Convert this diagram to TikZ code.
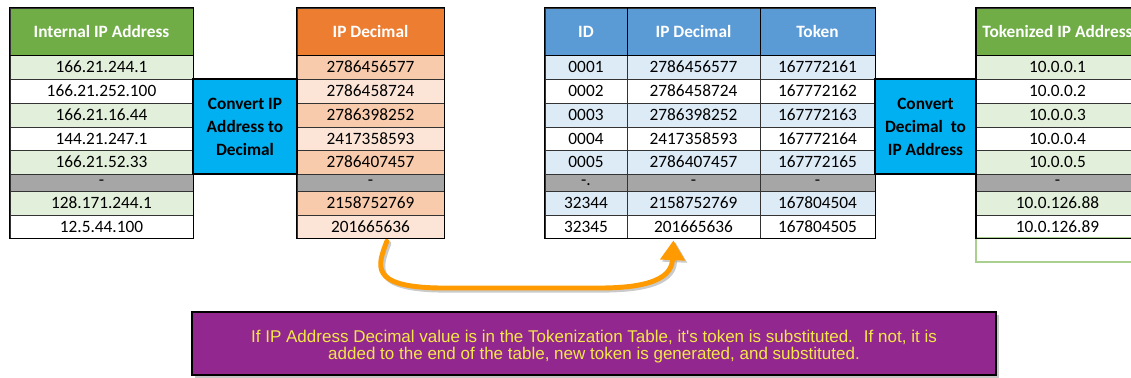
\documentclass[tikz,border=0pt]{standalone}
\usepackage{fontspec}
\setmainfont{Carlito}
\newfontfamily\notefont{Liberation Sans}
\usetikzlibrary{arrows.meta,calc,shadows}

\definecolor{hdgreen}{HTML}{70AD47}
\definecolor{hdorange}{HTML}{ED7D31}
\definecolor{hdblue}{HTML}{5B9BD5}
\definecolor{rowgray}{HTML}{A6A6A6}
\definecolor{ipa}{HTML}{E2EFDA}
\definecolor{ipb}{HTML}{FFFFFF}
\definecolor{ipg}{HTML}{A6A6A6}
\definecolor{deca}{HTML}{F8CBAD}
\definecolor{decb}{HTML}{FCE4D6}
\definecolor{decg}{HTML}{A6A6A6}
\definecolor{tka}{HTML}{DDEBF7}
\definecolor{tkb}{HTML}{FFFFFF}
\definecolor{tkg}{HTML}{A6A6A6}
\definecolor{xgreen}{HTML}{A9D08E}
\definecolor{convblue}{HTML}{00B0F0}
\definecolor{notepurple}{HTML}{92278F}
\definecolor{noteyellow}{HTML}{F4E64A}
\definecolor{arroworange}{HTML}{FF9A00}

\def\pu{0.025cm}

\tikzset{
  cell/.style={draw=black!80, line width=0.6pt, inner sep=0pt,
    font=\fontsize{12.3}{14}\selectfont},
  head/.style={cell, text=white, font=\fontsize{12.3}{14}\selectfont\bfseries,
    minimum height=47*\pu},
  frame/.style={draw=black, line width=1.3pt},
  convbox/.style={draw=black, line width=1.3pt, fill=convblue, inner sep=0pt,
    align=center, minimum height=95*\pu,
    font=\fontsize{12.3}{16.3}\selectfont\bfseries},
  notebox/.style={draw=black, line width=1.3pt, fill=notepurple, text=noteyellow,
    align=center, inner sep=0pt,
    font=\notefont\fontsize{12.1}{12.1}\selectfont,
    drop shadow={shadow xshift=2pt, shadow yshift=-2pt, opacity=0.45}},
  bendarrow/.style={line width=3.5pt, line cap=round,
    -{Triangle[length=14pt, width=17pt]}},
}

\begin{document}
\begin{tikzpicture}[x=\pu, y=-\pu]
  \useasboundingbox (0,0) rectangle (1131,377);
  \clip (0,0) rectangle (1131,377);

  % headers
  \node[head, fill=hdgreen, minimum width=183*\pu] (iphead) at (101.5,31.5) {Internal IP Address};
  \node[head, fill=hdorange, minimum width=147*\pu] (dechead) at (370.5,31.5) {IP Decimal};
  \node[head, fill=hdblue, minimum width=82*\pu] (idhead) at (586,31.5) {ID};
  \node[head, fill=hdblue, minimum width=133*\pu] (mdechead) at (693.5,31.5) {IP Decimal};
  \node[head, fill=hdblue, minimum width=115*\pu] (tokhead) at (817.5,31.5) {Token};
  \node[head, fill=hdgreen, minimum width=163*\pu] (tiphead) at (1057.5,31.5) {Tokenized IP Address};

  % table rows
  \foreach \r/\ya/\yb/\k/\ip/\dec/\id/\tok/\tip in {
    1/55/79/a/166.21.244.1/2786456577/0001/167772161/10.0.0.1,
    2/79/103/b/166.21.252.100/2786458724/0002/167772162/10.0.0.2,
    3/103/127/a/166.21.16.44/2786398252/0003/167772163/10.0.0.3,
    4/127/150/b/144.21.247.1/2417358593/0004/167772164/10.0.0.4,
    5/150/174/a/166.21.52.33/2786407457/0005/167772165/10.0.0.5,
    6/174/191/g/-/-/-./-/-,
    7/191/215/a/128.171.244.1/2158752769/32344/167804504/10.0.126.88,
    8/215/238/b/12.5.44.100/201665636/32345/167804505/10.0.126.89}{
    \pgfmathsetmacro\yc{(\ya+\yb)/2}
    \pgfmathsetmacro\h{\yb-\ya}
    \node[cell, fill=ip\k, minimum width=183*\pu, minimum height=\h*\pu] (ip\r) at (101.5,\yc) {\ip};
    \node[cell, fill=dec\k, minimum width=147*\pu, minimum height=\h*\pu] (dec\r) at (370.5,\yc) {\dec};
    \node[cell, fill=tk\k, minimum width=82*\pu, minimum height=\h*\pu] (id\r) at (586,\yc) {\id};
    \node[cell, fill=tk\k, minimum width=133*\pu, minimum height=\h*\pu] (mdec\r) at (693.5,\yc) {\dec};
    \node[cell, fill=tk\k, minimum width=115*\pu, minimum height=\h*\pu] (tok\r) at (817.5,\yc) {\tok};
    \node[cell, fill=ip\k, minimum width=163*\pu, minimum height=\h*\pu] (tip\r) at (1057.5,\yc) {\tip};
  }
  \node[draw=xgreen, line width=0.8pt, inner sep=0pt, minimum width=163*\pu,
    minimum height=24*\pu] (tip9) at (1057.5,250) {};

  % converters
  \node[convbox, minimum width=104*\pu] (conv1) at (245,126.5) {Convert IP\\Address to\\Decimal};
  \node[convbox, minimum width=101*\pu] (conv2) at (925.5,126.5) {Convert\\Decimal~ to\\IP Address};

  % outer frames
  \draw[frame] (iphead.north west) rectangle (ip8.south east);
  \draw[frame] (dechead.north west) rectangle (dec8.south east);
  \draw[frame] (idhead.north west) rectangle (tok8.south east);
  \draw[frame] (tiphead.north west) rectangle (tip8.south east);
  \draw[frame] (iphead.south west) -- (iphead.south east);
  \draw[frame] (dechead.south west) -- (dechead.south east);
  \draw[frame] (idhead.south west) -- (tokhead.south east);
  \draw[frame] (tiphead.south west) -- (tiphead.south east);
  \draw[frame] (idhead.north east) -- (idhead.south east);
  \draw[frame] (mdechead.north east) -- (mdechead.south east);

  % lookup arrow
  \coordinate (from) at ($(dec8.south west)!0.61!(dec8.south east)+(0,3)$);
  \coordinate (to) at ($(mdec8.south west)!0.35!(mdec8.south east)+(0,2)$);
  \begin{scope}[transform canvas={xshift=1.5pt, yshift=-1.5pt}]
    \draw[bendarrow, draw=black!35, opacity=0.6] (from) .. controls (378,265) and (368,287) .. (440,288)
      -- (600,288) .. controls (662,288) and (672,272) .. (to);
  \end{scope}
  \draw[bendarrow, draw=arroworange] (from) .. controls (378,265) and (368,287) .. (440,288)
    -- (600,288) .. controls (662,288) and (672,272) .. (to);

  % note
  \node[notebox, minimum width=804*\pu, minimum height=63*\pu] (note) at (594,343.5)
    {\rule{0pt}{13pt}If IP Address Decimal value is in the Tokenization Table, it's token is substituted.~ If not, it is\\
     added to the end of the table, new token is generated, and substituted.};
\end{tikzpicture}
\end{document}
